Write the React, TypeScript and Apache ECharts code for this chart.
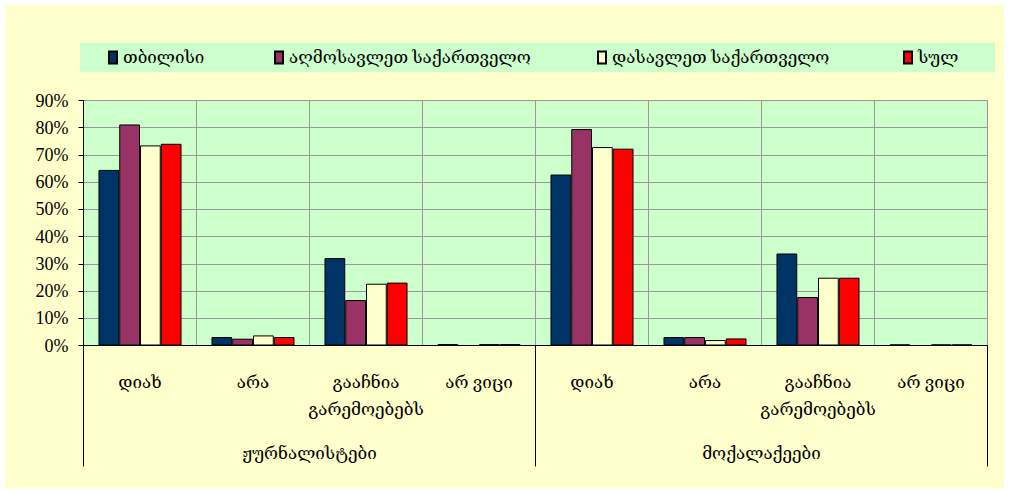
import React, { useEffect, useRef } from "react";
import * as echarts from "echarts";

const categories = ["დიახ", "არა", "გააჩნია\nგარემოებებს", "არ ვიცი", "დიახ", "არა", "გააჩნია\nგარემოებებს", "არ ვიცი"];
const groups = ["ჟურნალისტები", "მოქალაქეები"];
const seriesNames = ["თბილისი", "აღმოსავლეთ საქართველო", "დასავლეთ საქართველო", "სულ"];
const tbilisi = [64.5, 3.1, 32.1, 0.5, 62.8, 3.1, 33.8, 0.4];
const east = [81.2, 2.5, 16.7, 0, 79.5, 3.1, 17.8, 0];
const west = [73.5, 3.7, 22.7, 0.5, 72.9, 2.0, 24.9, 0.4];
const total = [74.1, 3.1, 23.1, 0.5, 72.3, 2.6, 24.9, 0.4];
const colors = ["#003366", "#993366", "#FFFFCC", "#FF0000"];
const legendLefts = [108, 274, 597, 903];

const FONT = "'Liberation Serif', 'DejaVu Serif', serif";

export default function App() {
  const ref = useRef<HTMLDivElement>(null);
  useEffect(() => {
    document.body.style.margin = "0";
    const chart = echarts.init(ref.current!, undefined, { renderer: "svg" });
    const values = [tbilisi, east, west, total];
    chart.setOption({
      animation: false,
      backgroundColor: "#FFFFFF",
      textStyle: { fontFamily: FONT },
      graphic: [
        {
          type: "rect",
          z: -100,
          shape: { x: 5, y: 5, width: 999, height: 483 },
          style: { fill: "#FFFFCC" },
        },
        {
          type: "rect",
          z: -90,
          shape: { x: 80, y: 43, width: 915, height: 29 },
          style: { fill: "#CCFFCC" },
        },
      ],
      legend: seriesNames.map((n, i) => ({
        data: [n],
        left: legendLefts[i],
        top: 49,
        padding: 0,
        itemWidth: 8,
        itemHeight: 12,
        icon: "rect",
        textStyle: { fontFamily: FONT, fontSize: 17, color: "#000", padding: [0, 0, 0, 1] },
      })),
      grid: {
        left: 83.5,
        right: 21.5,
        top: 100.5,
        bottom: 147.5,
        show: true,
        backgroundColor: "#CCFFCC",
        borderColor: "#999999",
        borderWidth: 1,
      },
      xAxis: [
        {
          type: "category",
          data: categories,
          axisLine: { lineStyle: { color: "#000", width: 1 } },
          axisTick: { show: false },
          splitLine: { show: true, lineStyle: { color: "#999999", width: 1 } },
          axisLabel: {
            interval: 0,
            margin: 23,
            fontSize: 17,
            lineHeight: 27,
            color: "#000",
            fontFamily: FONT,
          },
        },
        {
          type: "category",
          data: groups,
          position: "bottom",
          axisLine: { show: false },
          axisTick: { show: true, length: 121, lineStyle: { color: "#000", width: 1 } },
          splitLine: { show: false },
          axisLabel: {
            interval: 0,
            margin: 99,
            fontSize: 17,
            color: "#000",
            fontFamily: FONT,
          },
        },
      ],
      yAxis: {
        type: "value",
        min: 0,
        max: 90,
        interval: 10,
        axisLine: { show: true, lineStyle: { color: "#000", width: 1 } },
        axisTick: { show: true, length: 5, lineStyle: { color: "#000" } },
        splitLine: { show: true, lineStyle: { color: "#999999", width: 1 } },
        axisLabel: {
          formatter: "{value}%",
          fontSize: 18,
          margin: 15,
          color: "#000",
          fontFamily: FONT,
        },
      },
      series: seriesNames.map((n, i) => ({
        name: n,
        type: "bar",
        xAxisIndex: 0,
        data: values[i],
        barGap: "0%",
        barCategoryGap: "26.5%",
        itemStyle: { color: colors[i], borderColor: "#000", borderWidth: 1 },
      })),
    });
    return () => chart.dispose();
  }, []);
  return <div ref={ref} style={{ width: 1009, height: 493 }} />;
}
